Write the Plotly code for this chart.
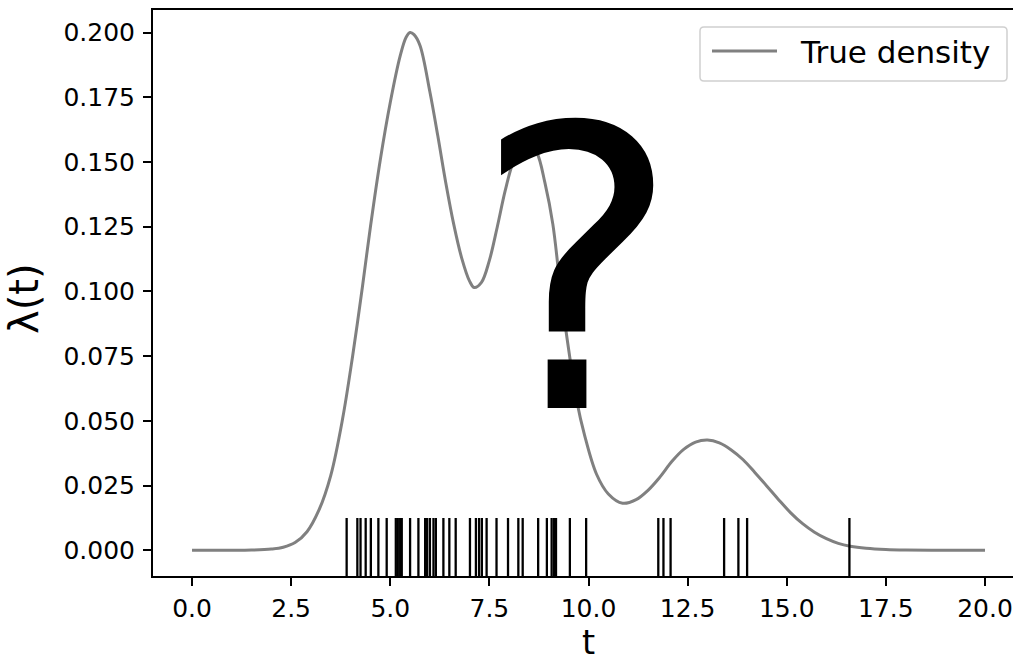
import plotly.graph_objects as go

# ---- data ----
t_curve = [0.0, 1.0, 1.5, 2.0, 2.3, 2.6, 2.9, 3.2, 3.5, 3.8, 4.05, 4.3, 4.5, 4.75,
           5.0, 5.25, 5.4, 5.5, 5.6, 5.75, 6.0, 6.2, 6.4, 6.6, 6.8, 7.0, 7.12, 7.3,
           7.5, 7.7, 7.9, 8.1, 8.3, 8.5, 8.7, 8.9, 9.1, 9.3, 9.5, 9.7, 9.9, 10.2,
           10.5, 10.86, 11.2, 11.5, 11.8, 12.1, 12.4, 12.7, 13.0, 13.3, 13.6, 13.9,
           14.2, 14.5, 14.8, 15.1, 15.4, 15.7, 16.0, 16.3, 16.6, 17.0, 17.5, 18.0,
           19.0, 20.0]
density = [0.0, 0.0, 0.0001, 0.0005, 0.0012, 0.003, 0.0072, 0.0155, 0.029, 0.051,
           0.075, 0.102, 0.125, 0.151, 0.173, 0.191, 0.1982, 0.200, 0.1992, 0.195,
           0.177, 0.160, 0.142, 0.126, 0.113, 0.104, 0.1015, 0.1035, 0.112, 0.125,
           0.139, 0.150, 0.1558, 0.157, 0.1535, 0.142, 0.126, 0.100, 0.0775, 0.058,
           0.0445, 0.0295, 0.0218, 0.0182, 0.0196, 0.0232, 0.0283, 0.0343, 0.039,
           0.0418, 0.0426, 0.0415, 0.0388, 0.035, 0.030, 0.0248, 0.0195, 0.0145,
           0.0103, 0.007, 0.0045, 0.0027, 0.0016, 0.0008, 0.0003, 0.0001, 0.0, 0.0]

events = [3.90, 4.17, 4.25, 4.38, 4.51, 4.70, 4.91, 5.14, 5.19, 5.25, 5.29, 5.50,
          5.71, 5.88, 5.93, 6.00, 6.09, 6.15, 6.34, 6.49, 6.65, 7.01, 7.16, 7.24,
          7.31, 7.43, 7.68, 7.97, 8.23, 8.34, 8.73, 8.95, 9.07, 9.13, 9.18, 9.53,
          9.94, 11.76, 11.89, 12.07, 13.42, 13.78, 14.00, 16.58]
rug_top = 0.0125
rug_bottom = -0.012

x_ticks = [0.0, 2.5, 5.0, 7.5, 10.0, 12.5, 15.0, 17.5, 20.0]
y_ticks = [0.0, 0.025, 0.05, 0.075, 0.1, 0.125, 0.15, 0.175, 0.2]

legend_label = "True density"
x_title = "t"
y_title = "λ(t)"

# ---- figure ----
FONT = "DejaVu Sans"
fig = go.Figure()

fig.add_trace(go.Scatter(
    x=t_curve, y=density, mode="lines", name=legend_label,
    line=dict(color="#808080", width=3, shape="spline", smoothing=1.0),
    showlegend=False, hoverinfo="skip"))

rx, ry = [], []
for e in events:
    rx += [e, e, None]
    ry += [rug_bottom, rug_top, None]
fig.add_trace(go.Scatter(x=rx, y=ry, mode="lines",
                         line=dict(color="black", width=2.3),
                         showlegend=False, hoverinfo="skip"))

# plot area in pixels: x 153..1013, y 10..576
W, H = 1014, 664
L, R, T, B = 153, 1, 10, 88
pw, ph = W - L - R, H - T - B


def px(x):
    return (x - L) / pw


def py(y):
    return (H - B - y) / ph


# custom legend (box, line sample, label)
bx0, by0, bx1, by1, r = 700, 27, 1007, 81, 4
path = (f"M {px(bx0 + r)},{py(by0)} L {px(bx1 - r)},{py(by0)} "
        f"Q {px(bx1)},{py(by0)} {px(bx1)},{py(by0 + r)} "
        f"L {px(bx1)},{py(by1 - r)} Q {px(bx1)},{py(by1)} {px(bx1 - r)},{py(by1)} "
        f"L {px(bx0 + r)},{py(by1)} Q {px(bx0)},{py(by1)} {px(bx0)},{py(by1 - r)} "
        f"L {px(bx0)},{py(by0 + r)} Q {px(bx0)},{py(by0)} {px(bx0 + r)},{py(by0)} Z")
fig.add_shape(type="path", path=path, xref="paper", yref="paper",
              line=dict(color="#d0d0d0", width=1.5), fillcolor="rgba(255,255,255,0.8)")
fig.add_shape(type="line", xref="paper", yref="paper",
              x0=px(712), x1=px(777), y0=py(51), y1=py(51),
              line=dict(color="#808080", width=3))
fig.add_annotation(text=legend_label, xref="paper", yref="paper",
                   x=px(798), y=py(52), xanchor="left", yanchor="middle",
                   showarrow=False, font=dict(family=FONT, size=31, color="black"))

# axis titles as annotations for precise placement
fig.add_annotation(text=x_title, xref="paper", yref="paper", borderpad=0,
                   x=px(588), y=py(642), xanchor="center", yanchor="middle",
                   showarrow=False, font=dict(family=FONT, size=33.5, color="black"))
fig.add_annotation(text=y_title, xref="paper", yref="paper", textangle=-90,
                   x=px(24), y=py(299), xanchor="center", yanchor="middle",
                   showarrow=False, font=dict(family=FONT, size=40, color="black"))

# big question mark
fig.add_annotation(text="?", xref="x", yref="y", x=9.71, y=0.1074,
                   xanchor="center", yanchor="middle", showarrow=False,
                   font=dict(family=FONT, size=391, color="black"))

fig.update_layout(
    width=W, height=H,
    margin=dict(l=L, r=R, t=T, b=B, pad=0),
    paper_bgcolor="white", plot_bgcolor="white",
    font=dict(family=FONT, color="black"),
    xaxis=dict(range=[-0.984, 20.706], tickmode="array", tickvals=x_ticks,
               ticktext=[f"{v:.1f}" for v in x_ticks], automargin=False,
               showgrid=False, zeroline=False, showline=True, linecolor="black",
               linewidth=2, mirror=True, ticks="outside", ticklen=8, tickwidth=2,
               tickcolor="black", tickfont=dict(size=25, family=FONT),
               ticklabelstandoff=1),
    yaxis=dict(range=[-0.0099, 0.2087], tickmode="array", tickvals=y_ticks,
               ticktext=[f"{v:.3f}" for v in y_ticks], automargin=False,
               showgrid=False, zeroline=False, showline=True, linecolor="black",
               linewidth=2, mirror=False, ticks="outside", ticklen=8, tickwidth=2,
               tickcolor="black", tickfont=dict(size=25, family=FONT),
               ticklabelstandoff=3),
)

fig.write_html("out.html")
